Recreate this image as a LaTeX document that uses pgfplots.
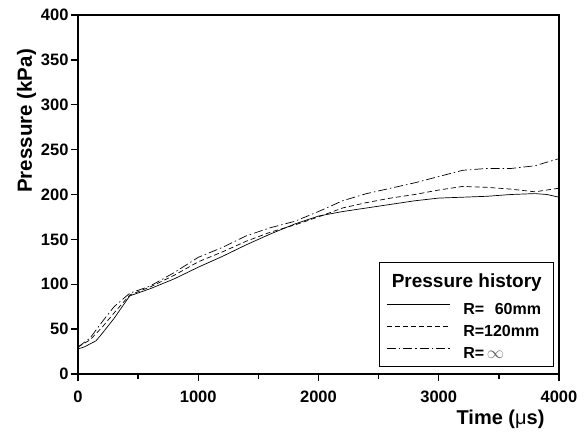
\documentclass[border=0pt]{standalone}
\usepackage{pgfplots}
\pgfplotsset{compat=1.18}
\usepackage{fontspec}
\setmainfont{Liberation Sans}
\begin{document}
\begin{tikzpicture}
\begin{axis}[
  name=ax,
  width=481bp, height=359bp, scale only axis,
  xmin=0, xmax=4000, ymin=0, ymax=400,
  xtick={0,1000,2000,3000,4000},
  minor xtick={500,1500,2500,3500},
  ytick={0,50,...,400},
  axis line style={line width=1.7pt},
  tick style={line width=1.4pt, black},
  major tick length=7bp, minor tick length=5bp,
  tick align=outside,
  xtick pos=bottom, ytick pos=left,
  /pgf/number format/assume math mode=true,
  /pgf/number format/set thousands separator={},
  ticklabel style={font=\fontsize{16.5bp}{18bp}\selectfont\bfseries},
  xticklabel style={yshift=-6bp},
  yticklabel style={xshift=1bp},
  xlabel={Time ({\mdseries μ}s)},
  ylabel={Pressure (kPa)},
  xlabel style={font=\fontsize{20bp}{22bp}\selectfont\bfseries, anchor=base east, at={(rel axis cs:1,0)}, yshift=-50bp, xshift=-11bp},
  ylabel style={font=\fontsize{20.5bp}{22bp}\selectfont\bfseries, at={(ticklabel cs:0.705)}, yshift=-2bp},
  legend cell align=left,
  legend style={at={(rel axis cs:0.9896,0.0195)}, anchor=south east, draw=black, line width=1.4pt,
     font=\fontsize{16bp}{17bp}\selectfont\bfseries, row sep=8bp, column sep=13bp,
     inner xsep=7bp, inner ysep=6bp,
     nodes={inner sep=0pt, text height=12bp, text depth=2bp, text width=83bp, align=left}},
  legend image code/.code={\draw[#1, line width=0.7pt] (0bp,5bp) -- (63bp,5bp);},
]
\addlegendimage{empty legend}
\addlegendentry[text height=19bp, text depth=7bp]{\hspace*{-76bp}\makebox[159bp][c]{\fontsize{19bp}{20bp}\selectfont Pressure history}}
\addplot[black, line width=0.7pt] coordinates {
(0,28) (50,30) (150,37) (200,45) (300,62) (430,87) (600,95) (800,106) (1000,119) (1200,131) (1400,144) (1600,156) (1800,167) (2000,176) (2200,181) (2400,185) (2600,189) (2800,193) (3000,196) (3200,197) (3400,198) (3600,200) (3800,201) (3900,200) (4000,197)};
\addlegendentry{R=\ \ 60mm}
\addplot[black, line width=0.7pt, dash pattern=on 5pt off 3pt] coordinates {
(0,30) (100,38) (200,52) (300,68) (430,88) (600,97) (800,110) (1000,125) (1200,136) (1400,148) (1600,158) (1800,166) (2000,175) (2200,185) (2400,191) (2600,196) (2800,200) (3000,205) (3200,209) (3400,208) (3600,206) (3800,203) (3900,205) (4000,207)};
\addlegendentry{R=120mm}
\addplot[black, line width=0.7pt, dash pattern=on 9pt off 3pt on 1.5pt off 3pt] coordinates {
(0,30) (100,40) (200,58) (300,75) (430,90) (600,98) (800,113) (1000,130) (1200,141) (1400,154) (1600,163) (1800,170) (2000,181) (2200,193) (2400,201) (2600,207) (2800,213) (3000,220) (3200,227) (3400,229) (3600,229) (3800,232) (4000,240)};
\addlegendentry{R=\,{\color{black!60}$\infty$}}
\end{axis}
\path (ax.south west) ++(-78bp,-58bp) rectangle ([shift={(28bp,15bp)}]ax.north east);
\end{tikzpicture}
\end{document}
